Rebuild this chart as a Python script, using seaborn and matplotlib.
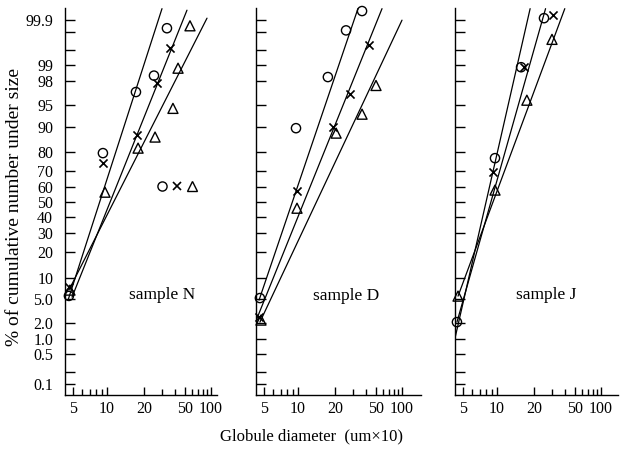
import math
from statistics import NormalDist
import numpy as np
import matplotlib
matplotlib.use("Agg")
import matplotlib.pyplot as plt
from matplotlib.ticker import FixedLocator, FixedFormatter, NullFormatter
from matplotlib.lines import Line2D
import seaborn as sns

# ---------------- data (diameter in um x 10, cumulative % under size) -------------
panel_names = ["sample N", "sample D", "sample J"]

N_circ_x = [4.6, 9.2, 17.2, 25.0, 33.4]
N_circ_p = [5.6, 79.7, 96.9, 98.4, 99.84]
N_cross_x = [4.6, 9.2, 17.5, 26.7, 35.7]
N_cross_p = [7.5, 74.6, 87.2, 97.8, 99.55]
N_tri_x = [4.7, 9.6, 17.9, 25.6, 38.2, 42.8, 57.1]
N_tri_p = [6.8, 56.7, 82.0, 86.5, 94.4, 98.84, 99.86]
N_line_circ_x, N_line_circ_p = [4.52, 29.9], [4.84, 99.948]
N_line_cross_x, N_line_cross_p = [4.9, 52.7], [5.37, 99.943]
N_line_tri_x, N_line_tri_p = [4.6, 89.9], [6.8, 99.909]

D_circ_x = [4.6, 9.6, 17.5, 25.6, 36.6]
D_circ_p = [5.2, 89.5, 98.3, 99.82, 99.94]
D_cross_x = [4.5, 9.8, 19.3, 28.0, 42.8]
D_cross_p = [2.56, 57.4, 89.8, 96.6, 99.61]
D_tri_x = [4.7, 9.8, 20.5, 36.6, 50.0]
D_tri_p = [2.28, 45.9, 87.9, 93.2, 97.6]
D_line_circ_x, D_line_circ_p = [4.52, 33.4], [4.84, 99.948]
D_line_cross_x, D_line_cross_p = [4.34, 58.7], [2.46, 99.948]
D_line_tri_x, D_line_tri_p = [4.6, 100.0], [2.10, 99.898]

J_circ_x = [4.42, 9.6, 15.7, 25.0]
J_circ_p = [2.10, 77.2, 98.89, 99.909]
J_cross_x = [9.2, 16.6, 30.6]
J_cross_p = [69.4, 98.89, 99.924]
J_tri_x = [4.52, 9.6, 17.5, 29.9]
J_tri_p = [5.56, 58.1, 95.8, 99.71]
J_line_circ_x, J_line_circ_p = [4.42, 25.9], [2.10, 99.948]
J_line_cross_x, J_line_cross_p = [4.25, 18.6], [1.06, 99.948]
J_line_tri_x, J_line_tri_p = [4.52, 39.8], [5.56, 99.948]

x_ticks = [5, 10, 20, 50, 100]
x_tick_labels = ["5", "10", "20", "50", "100"]
x_minor = [6, 7, 8, 9, 30, 40, 60, 70, 80, 90]
y_ticks = [0.1, 0.5, 1, 2, 5, 10, 20, 30, 40, 50, 60, 70, 80, 90, 95, 98, 99, 99.9]
y_tick_labels = ["0.1", "0.5", "1.0", "2.0", "5.0", "10", "20", "30", "40", "50",
                 "60", "70", "80", "90", "95", "98", "99", "99.9"]
y_minor = [0.2, 99.5, 99.8]

panels = [
    dict(circ=(N_circ_x, N_circ_p), cross=(N_cross_x, N_cross_p), tri=(N_tri_x, N_tri_p),
         lines=[(N_line_circ_x, N_line_circ_p), (N_line_cross_x, N_line_cross_p),
                (N_line_tri_x, N_line_tri_p)]),
    dict(circ=(D_circ_x, D_circ_p), cross=(D_cross_x, D_cross_p), tri=(D_tri_x, D_tri_p),
         lines=[(D_line_circ_x, D_line_circ_p), (D_line_cross_x, D_line_cross_p),
                (D_line_tri_x, D_line_tri_p)]),
    dict(circ=(J_circ_x, J_circ_p), cross=(J_cross_x, J_cross_p), tri=(J_tri_x, J_tri_p),
         lines=[(J_line_circ_x, J_line_circ_p), (J_line_cross_x, J_line_cross_p),
                (J_line_tri_x, J_line_tri_p)]),
]

# ---------------- scales ---------------------------------------------------------
_nd = NormalDist()
_ppf = np.vectorize(lambda q: _nd.inv_cdf(q), otypes=[float])
_erf = np.vectorize(math.erf, otypes=[float])


def prob_fwd(p):
    q = np.clip(np.asarray(p, dtype=float) / 100.0, 1e-9, 1 - 1e-9)
    return _ppf(q)


def prob_inv(z):
    z = np.asarray(z, dtype=float)
    return 50.0 * (1.0 + _erf(z / math.sqrt(2.0)))


# printed (slightly irregular) logarithmic diameter axis of the original paper
X_NODE_VAL = [3, 5, 10, 20, 50, 100, 300]
X_NODE_POS = [-17.1, 8, 42, 79, 120, 146, 187.2]
_LOGN = np.log10(X_NODE_VAL)


def x_fwd(x):
    x = np.clip(np.asarray(x, dtype=float), 1e-9, None)
    return np.interp(np.log10(x), _LOGN, X_NODE_POS)


def x_inv(u):
    return 10 ** np.interp(np.asarray(u, dtype=float), X_NODE_POS, _LOGN)


# ---------------- figure ---------------------------------------------------------
sns.set_style("ticks")
plt.rcParams["font.family"] = ["Liberation Serif", "DejaVu Serif"]
plt.rcParams["axes.edgecolor"] = "black"
plt.rcParams["xtick.color"] = "black"
plt.rcParams["ytick.color"] = "black"

W, H = 625, 450
fig = plt.figure(figsize=(6.25, 4.5), dpi=100)
fig.patch.set_facecolor("white")
top_px, bot_px = 8, 395
layout = [(65, 152), (256, 165), (455, 163)]
text_pos = [(0.638, 0.258), (0.545, 0.256), (0.558, 0.258)]

for i, ((left, width), pdata) in enumerate(zip(layout, panels)):
    ax = fig.add_axes([left / W, 1 - bot_px / H, width / W, (bot_px - top_px) / H])
    ax.set_facecolor("white")
    ax.set_xscale("function", functions=(x_fwd, x_inv))
    ax.set_yscale("function", functions=(prob_fwd, prob_inv))

    for lx, lp in pdata["lines"]:
        sns.lineplot(x=lx, y=lp, ax=ax, color="black", linewidth=0.9,
                     sort=False, estimator=None)
    cx, cp = pdata["circ"]
    sns.scatterplot(x=cx, y=cp, ax=ax, marker="o", s=44, facecolor="none",
                    edgecolor="black", linewidth=1.0, clip_on=False, zorder=3)
    xx, xp = pdata["cross"]
    sns.scatterplot(x=xx, y=xp, ax=ax, marker="x", s=34, color="black",
                    linewidth=1.2, clip_on=False, zorder=3)
    tx, tp = pdata["tri"]
    sns.scatterplot(x=tx, y=tp, ax=ax, marker="^", s=52, facecolor="none",
                    edgecolor="black", linewidth=1.0, clip_on=False, zorder=3)

    ax.set_xlim(float(x_inv(0)), float(x_inv(width)))
    ax.set_ylim(0.054, 99.95)

    ax.xaxis.set_major_locator(FixedLocator(x_ticks))
    ax.xaxis.set_major_formatter(FixedFormatter(x_tick_labels))
    ax.xaxis.set_minor_locator(FixedLocator(x_minor))
    ax.xaxis.set_minor_formatter(NullFormatter())
    ax.yaxis.set_major_locator(FixedLocator(y_ticks))
    ax.yaxis.set_major_formatter(FixedFormatter(y_tick_labels))
    ax.yaxis.set_minor_locator(FixedLocator(y_minor))
    ax.yaxis.set_minor_formatter(NullFormatter())

    ax.tick_params(axis="both", which="both", direction="in", color="black", width=1.0)
    ax.tick_params(axis="x", which="major", length=6, pad=4, labelsize=11.5)
    ax.tick_params(axis="x", which="minor", length=4)
    ax.tick_params(axis="y", which="both", length=7, pad=8.5, labelsize=11.5)
    if i > 0:
        ax.tick_params(axis="y", labelleft=False)

    for side in ("top", "right"):
        ax.spines[side].set_visible(False)
    for side in ("left", "bottom"):
        ax.spines[side].set_linewidth(1.0)
        ax.spines[side].set_color("black")
    ax.set_xlabel("")
    ax.set_ylabel("")

    ax.text(text_pos[i][0], text_pos[i][1], panel_names[i], transform=ax.transAxes,
            ha="center", va="center", fontsize=12.5, color="black")

    if i == 0:
        handles = [
            Line2D([], [], marker="o", ls="none", mfc="none", mec="black", ms=6.6, mew=1.0),
            Line2D([], [], marker="x", ls="none", color="black", ms=5.8, mew=1.2),
            Line2D([], [], marker="^", ls="none", mfc="none", mec="black", ms=7.2, mew=1.0),
        ]
        ax.legend(handles=handles, labels=["", "", ""], ncol=3, frameon=False,
                  loc="center", bbox_to_anchor=(0.737, 0.537), handlelength=0.6,
                  handletextpad=0.0, columnspacing=0.5, borderpad=0.0, fontsize=10)

fig.text(0.499, 0.031, "Globule diameter  (um\u00d710)", ha="center", va="center",
         fontsize=12, color="black")
fig.text(0.024, 0.54, "% of cumulative number under size", rotation=90,
         ha="center", va="center", fontsize=14, color="black")

fig.savefig("out.png", dpi=100, facecolor="white")
